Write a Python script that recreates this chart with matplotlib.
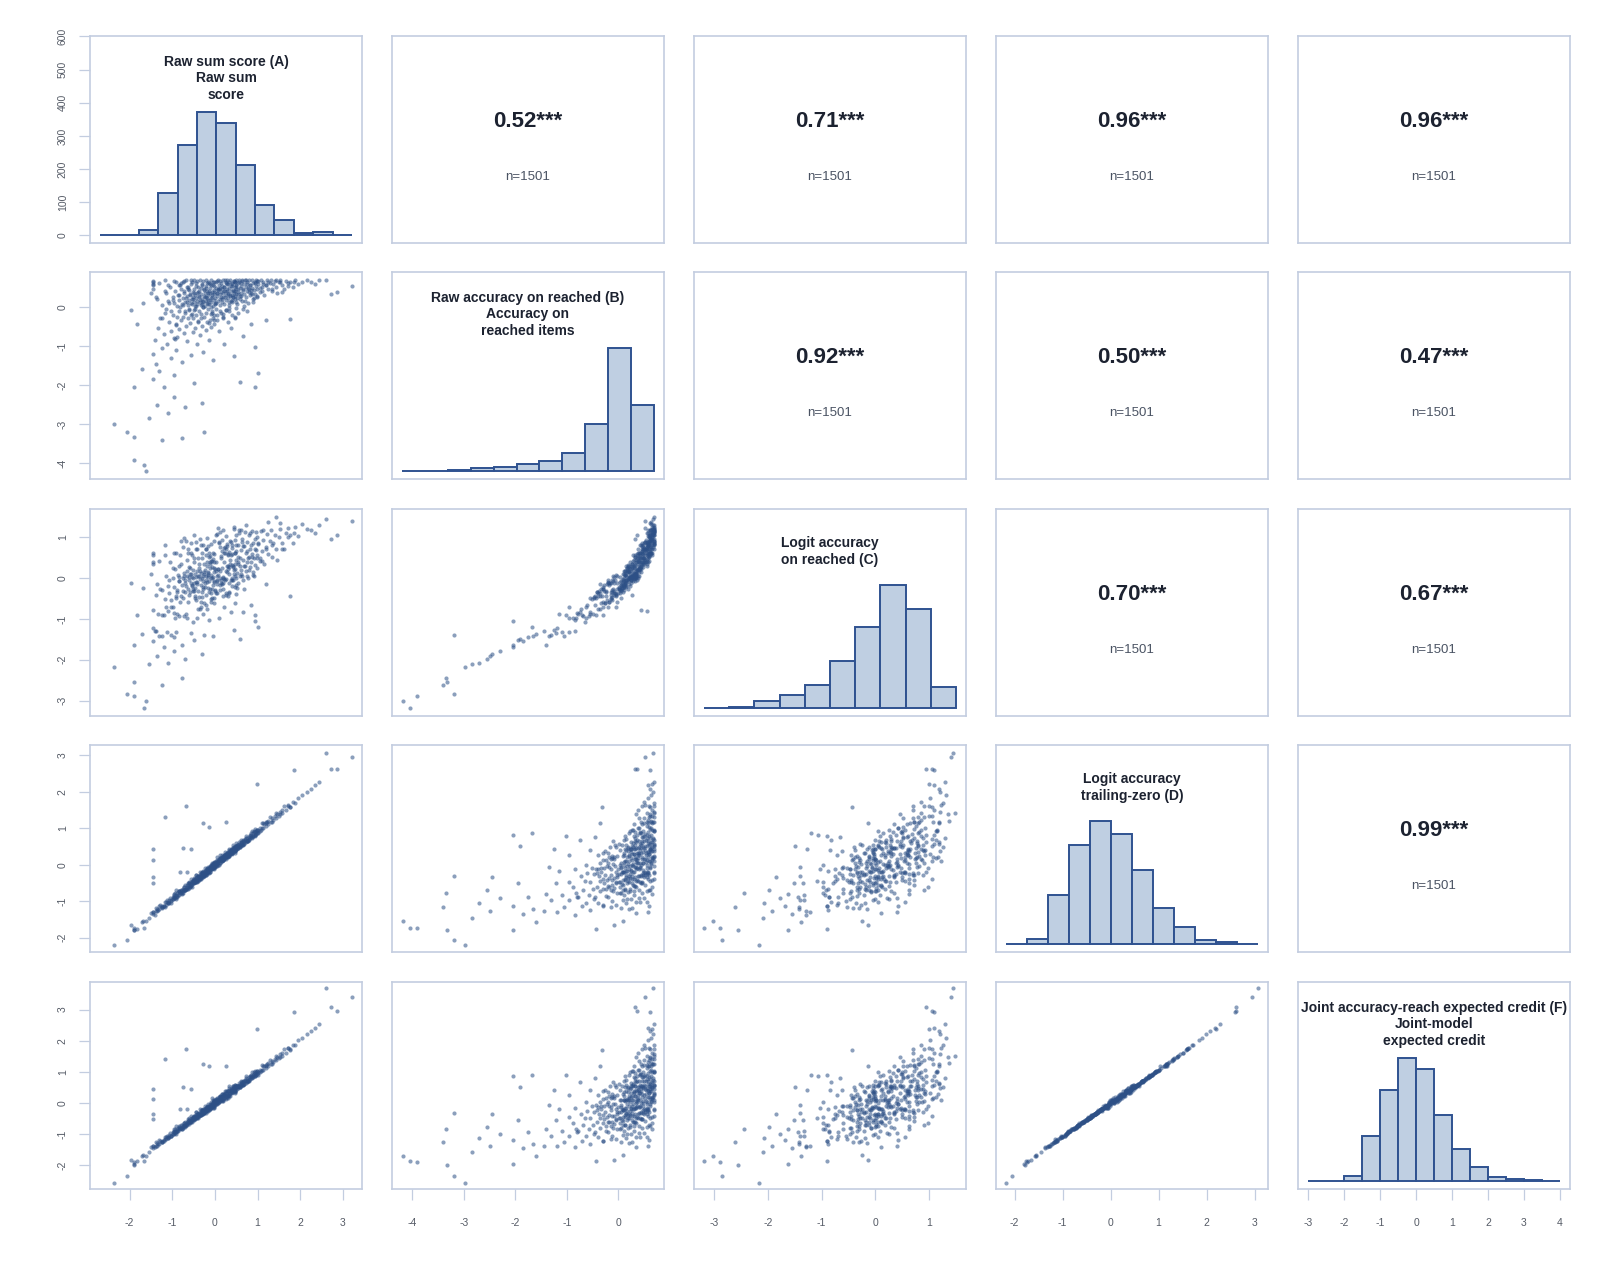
import matplotlib
matplotlib.use("Agg")
import matplotlib.pyplot as plt
import numpy as np

plt.rcParams['font.family'] = ['Liberation Sans', 'DejaVu Sans']

# ---------------- per-respondent scores ----------------
# low-accuracy tail
A_tail = [-2.37, -2.07, -1.89, -1.90, -1.66, -1.61, -1.23, -0.25, -0.78, 1.00,
          0.94, 0.59, -1.90, -1.55, -1.35, -1.10, -0.95, -1.45, -1.20, -0.70,
          -0.50, -1.70, -0.95, -0.30, -1.30]
B_tail = [-2.98, -3.20, -3.33, -3.91, -4.04, -4.19, -3.40, -3.20, -3.34, -1.68,
          -2.05, -1.92, -2.04, -2.85, -2.50, -2.70, -2.30, -1.85, -2.05, -2.55,
          -1.95, -1.60, -1.75, -2.45, -1.65]
C_tail = [-2.17, -2.85, -2.55, -2.90, -3.19, -3.02, -2.61, -1.40, -2.45, -1.20,
          -1.06, -1.50, -1.63, -2.10, -1.92, -2.08, -1.78, -1.55, -1.68, -1.98,
          -1.52, -1.38, -1.45, -1.85, -1.42]
D_tail = [-2.19, -2.05, -1.78, -1.74, -1.72, -1.55, -1.16, -0.30, -0.77, 0.86,
          0.82, 0.50, -1.80, -1.46, -1.28, -1.05, -0.92, -1.36, -1.12, -0.70,
          -0.50, -1.58, -0.88, -0.33, -1.22]
F_tail = [-2.57, -2.35, -1.98, -1.90, -1.88, -1.70, -1.25, -0.33, -0.84, 0.90,
          0.86, 0.52, -1.97, -1.58, -1.38, -1.13, -0.99, -1.46, -1.20, -0.76,
          -0.54, -1.71, -0.95, -0.36, -1.31]

# middling accuracy
A_mid = [-1.97, -1.83, -1.45, -1.40, -1.38, -1.33, -1.28, -1.25, -1.20, -1.16,
         -1.12, -1.08, -1.04, -1.02, -0.98, -0.96, -0.94, -0.92, -0.90, -0.88,
         -0.85, -0.83, -0.80, -0.78, -0.75, -0.72, -0.70, -0.68, -0.65, -0.63,
         -0.60, -0.58, -0.56, -0.54, -0.52, -0.51, -0.48, -0.46, -0.44, -0.42,
         -0.40, -0.38, -0.36, -0.33, -0.31, -0.29, -0.27, -0.25, -0.22, -0.20,
         -0.18, -0.16, -0.14, -0.12, -0.10, -0.08, -0.07, -0.05, -0.04, -0.03,
         -0.01, 0.02, 0.06, 0.10, 0.14, 0.18, 0.22, 0.26, 0.30, 0.33,
         0.37, 0.40, 0.44, 0.46, 0.49, 0.55, 0.65, 0.75, 0.85, 0.95,
         1.20, 1.77]
B_mid = [-0.08, -0.43, -1.20, -0.85, -1.45, -0.55, -0.30, -1.05, -0.70, -0.15,
         -0.95, -0.40, -1.30, -0.62, -0.20, -0.80, -0.82, -0.45, -1.10, -0.78,
         -0.10, -0.58, -0.35, -1.40, -0.25, -0.68, -0.12, -0.50, -0.88, -0.30,
         -0.05, -0.42, -1.22, -0.18, -0.65, -0.28, -0.08, -0.55, -0.22, -0.95,
         -0.38, -0.12, -0.72, -0.30, -0.48, -0.02, -1.15, -0.26, -0.60, -0.15,
         -0.40, -0.05, -0.85, -0.33, -0.18, -0.52, -0.10, -0.28, -1.35, -0.44,
         -0.20, -0.06, -0.35, -0.62, -0.15, -0.25, -0.95, -0.08, -0.40, -0.12,
         -0.55, -0.20, -1.25, -0.30, -0.04, -0.16, -0.75, -0.10, -0.45, -1.02,
         -0.35, -0.31]
C_mid = [-0.13, -0.90, -1.22, -1.30, -1.30, -0.88, -0.27, -1.42, -0.91, -0.52,
         -1.32, -0.37, -1.40, -0.70, -0.70, -0.86, -0.97, -0.44, -1.33, -0.87,
         -0.08, -0.94, -0.45, -1.63, -0.31, -0.92, -0.04, -0.88, -0.97, -0.60,
         -0.42, -0.35, -1.34, -0.18, -1.08, -0.33, -0.31, -0.50, -0.53, -0.97,
         -0.32, -0.46, -0.76, -0.71, -0.47, -0.26, -0.88, -0.62, -0.67, -0.42,
         -0.75, 0.07, -1.04, -0.28, -0.60, -0.52, -0.27, -0.18, -1.41, -0.48,
         -0.10, -0.36, -0.38, -0.97, -0.12, -0.44, -0.72, -0.38, -0.45, -0.34,
         -0.84, -0.05, -1.28, -0.22, -0.40, -0.12, -0.83, 0.06, -0.65, -0.90,
         -0.14, -0.44]
D_mid = [-1.65, -1.76, -1.29, -1.37, -1.26, -1.25, -1.11, -1.16, -1.12, -1.15,
         -0.96, -1.04, -0.96, -1.04, -0.87, -0.89, -0.77, -0.88, -0.84, -0.89,
         -0.73, -0.82, -0.72, -0.81, -0.66, -0.69, -0.56, -0.67, -0.60, -0.66,
         -0.49, -0.60, -0.50, -0.60, -0.45, -0.49, -0.36, -0.46, -0.42, -0.47,
         -0.31, -0.41, -0.32, -0.40, -0.26, -0.29, -0.17, -0.27, -0.22, -0.27,
         -0.11, -0.21, -0.12, -0.21, -0.06, -0.10, 0.01, -0.09, -0.05, -0.11,
         0.05, -0.04, 0.06, -0.01, 0.16, 0.14, 0.28, 0.20, 0.27, 0.23,
         0.40, 0.31, 0.42, 0.33, 0.49, 0.49, 0.67, 0.65, 0.77, 0.79,
         1.15, 1.58]
F_mid = [-1.82, -1.86, -1.40, -1.43, -1.37, -1.32, -1.21, -1.25, -1.21, -1.17,
         -1.05, -1.09, -1.05, -1.07, -0.95, -0.94, -0.85, -0.94, -0.91, -0.89,
         -0.80, -0.85, -0.79, -0.83, -0.73, -0.72, -0.62, -0.72, -0.65, -0.65,
         -0.55, -0.61, -0.56, -0.60, -0.50, -0.51, -0.41, -0.50, -0.46, -0.44,
         -0.36, -0.41, -0.36, -0.39, -0.30, -0.30, -0.21, -0.29, -0.25, -0.23,
         -0.14, -0.20, -0.15, -0.19, -0.09, -0.09, -0.02, -0.10, -0.06, -0.06,
         0.03, -0.02, 0.04, 0.03, 0.15, 0.16, 0.27, 0.21, 0.27, 0.30,
         0.40, 0.35, 0.42, 0.39, 0.50, 0.53, 0.68, 0.68, 0.80, 0.89,
         1.19, 1.70]

# high accuracy, below-average sum score
A_top1 = [-1.69, -1.46, -1.46, -1.46, -1.44, -1.44, -1.35, -1.25, -1.17, -1.15,
          -1.10, -1.05, -0.98, -0.96, -0.93, -0.91, -0.89, -0.87, -0.85, -0.82,
          -0.80, -0.78, -0.75, -0.74, -0.72, -0.70, -0.68, -0.66, -0.65, -0.63,
          -0.61, -0.60, -0.58, -0.57, -0.55, -0.54, -0.53, -0.52, -0.51, -0.49,
          -0.48, -0.47, -0.46, -0.45, -0.44, -0.43, -0.42, -0.41, -0.40, -0.38,
          -0.37, -0.36, -0.35, -0.33, -0.32, -0.31, -0.30, -0.28, -0.27, -0.26,
          -0.25, -0.24, -0.23, -0.22, -0.21, -0.20, -0.19, -0.18, -0.17, -0.16]
B_top1 = [0.09, 0.62, 0.66, 0.55, 0.44, 0.58, 0.20, 0.05, 0.69, 0.35,
          0.14, 0.50, 0.25, 0.10, 0.40, 0.62, 0.03, 0.30, 0.18, 0.55,
          0.45, 0.08, 0.64, 0.22, 0.35, 0.12, 0.69, 0.50, 0.28, 0.04,
          0.42, 0.16, 0.33, 0.58, 0.69, 0.20, 0.07, 0.38, 0.26, 0.12,
          0.45, 0.30, 0.02, 0.22, 0.60, 0.35, 0.15, 0.08, 0.50, 0.26,
          0.40, 0.18, 0.69, 0.05, 0.32, 0.55, 0.20, 0.65, 0.11, 0.44,
          0.28, 0.02, 0.36, 0.15, 0.52, 0.24, 0.09, 0.40, 0.62, 0.30]
C_top1 = [-0.25, 0.60, 0.55, 0.35, -0.78, 0.40, -0.15, -0.30, 0.80, 0.05,
          -0.20, 0.40, 0.00, -0.22, 0.22, 0.62, -0.30, 0.08, -0.08, 0.55,
          0.35, -0.18, 0.75, 0.00, 0.12, -0.12, 0.90, 0.45, 0.05, -0.28,
          0.28, -0.05, 0.10, 0.62, 0.85, 0.02, -0.20, 0.20, 0.00, -0.12,
          0.38, 0.10, -0.25, 0.02, 0.70, 0.18, -0.10, -0.15, 0.50, 0.05,
          0.25, -0.02, 0.95, -0.18, 0.12, 0.62, 0.00, 0.80, -0.08, 0.35,
          0.10, -0.22, 0.20, -0.05, 0.55, 0.05, -0.10, 0.30, 0.78, 0.12]
D_top1 = [-1.55, 0.42, 0.12, -0.33, -0.49, -1.30, -1.20, -1.19, 1.30, -1.02,
          -1.05, -0.92, -0.94, -0.84, -0.90, -0.70, -0.78, -0.84, -0.74, -0.19,
          -0.77, -0.68, 0.47, -0.72, -0.62, -0.68, 1.60, -0.19, -0.56, -0.62,
          -0.48, -0.51, -0.58, -0.40, 0.42, -0.46, -0.53, -0.44, -0.51, -0.41,
          -0.48, -0.39, -0.46, -0.37, -0.28, -0.44, -0.34, -0.42, -0.33, -0.39,
          -0.30, -0.37, -0.20, -0.26, -0.34, -0.24, -0.32, 1.15, -0.21, -0.28,
          -0.19, -0.26, -0.10, -0.16, -0.23, -0.14, -0.21, -0.13, -0.05, -0.19]
F_top1 = [-1.66, 0.45, 0.12, -0.35, -0.52, -1.38, -1.28, -1.27, 1.40, -1.09,
          -1.12, -0.98, -1.00, -0.89, -0.96, -0.74, -0.83, -0.89, -0.79, -0.20,
          -0.82, -0.72, 0.50, -0.77, -0.66, -0.72, 1.72, -0.20, -0.60, -0.66,
          -0.50, -0.54, -0.62, -0.42, 0.45, -0.49, -0.56, -0.47, -0.54, -0.44,
          -0.51, -0.41, -0.49, -0.39, -0.30, -0.47, -0.36, -0.45, -0.35, -0.41,
          -0.32, -0.39, -0.21, -0.28, -0.36, -0.25, -0.34, 1.24, -0.22, -0.30,
          -0.20, -0.28, -0.10, -0.17, -0.24, -0.15, -0.22, -0.14, -0.05, -0.20]

# high accuracy, around-average sum score
A_top2 = [-0.15, -0.14, -0.13, -0.12, -0.11, -0.10, -0.09, -0.08, -0.07, -0.06,
          -0.05, -0.04, -0.03, -0.02, -0.02, -0.01, 0.01, 0.02, 0.03, 0.04,
          0.05, 0.06, 0.07, 0.08, 0.10, 0.11, 0.12, 0.13, 0.14, 0.15,
          0.16, 0.17, 0.18, 0.19, 0.20, 0.21, 0.22, 0.23, 0.24, 0.25,
          0.26, 0.27, 0.28, 0.29, 0.30, 0.31, 0.32, 0.33, 0.34, 0.35,
          0.36, 0.37, 0.38, 0.39, 0.40, 0.41, 0.42, 0.43, 0.44, 0.45,
          0.46, 0.46, 0.47, 0.48, 0.48, 0.49, 0.49, 0.50, 0.50, 0.50]
B_top2 = [0.17, 0.60, 0.06, 0.47, 0.34, 0.21, 0.69, 0.12, 0.38, 0.26,
          0.55, 0.03, 0.42, 0.18, 0.32, 0.64, 0.22, 0.48, 0.10, 0.35,
          0.66, 0.28, 0.15, 0.42, 0.55, 0.05, 0.32, 0.20, 0.60, 0.38,
          0.13, 0.45, 0.26, 0.69, 0.34, 0.08, 0.50, 0.24, 0.40, 0.64,
          0.17, 0.30, 0.57, 0.44, 0.21, 0.36, 0.62, 0.11, 0.48, 0.27,
          0.69, 0.39, 0.15, 0.53, 0.31, 0.58, 0.24, 0.43, 0.66, 0.35,
          0.19, 0.50, 0.62, 0.28, 0.41, 0.69, 0.13, 0.55, 0.33, 0.46]
C_top2 = [0.15, 0.52, -0.07, 0.33, 0.40, 0.00, 0.82, 0.07, 0.00, 0.28,
          0.47, 0.02, 0.24, 0.14, -0.07, 0.90, 0.23, 0.38, 0.17, 0.04,
          1.07, -0.08, 0.08, 0.23, 0.87, -0.17, 0.00, 0.18, 0.53, 0.48,
          -0.15, 0.65, 0.02, 1.17, 0.00, -0.03, 0.73, -0.04, 0.60, 0.72,
          0.17, -0.02, 0.78, 0.30, 0.30, 0.23, 0.64, 0.10, 0.27, 0.33,
          0.90, 0.55, -0.06, 0.74, 0.00, 0.80, 0.30, 0.28, 1.20, 0.10,
          0.23, 0.35, 0.93, 0.06, 0.60, 1.05, -0.16, 0.80, 0.00, 0.66]
D_top2 = [-0.18, 1.03, -0.08, -0.15, -0.06, -0.12, -0.04, -0.10, 0.05, -0.02,
          -0.08, 0.00, -0.07, 0.03, -0.05, 0.04, -0.03, 0.06, -0.01, 0.08,
          0.20, 0.02, 0.11, 0.04, 0.13, 0.06, 0.15, 0.26, 0.09, 0.18,
          0.11, 0.20, 0.13, 0.22, 0.15, 0.24, 0.17, 0.36, 0.26, 1.18,
          0.20, 0.29, 0.22, 0.31, 0.24, 0.33, 0.44, 0.27, 0.36, 0.29,
          0.38, 0.31, 0.40, 0.33, 0.42, 0.35, 0.44, 0.55, 0.37, 0.46,
          0.39, 0.47, 0.40, 0.49, 0.41, 0.50, 0.42, 0.51, 0.43, 0.60]
F_top2 = [-0.26, 1.19, -0.13, -0.10, -0.17, -0.10, 0.03, -0.16, 0.16, -0.10,
          -0.16, 0.09, -0.12, 0.09, -0.15, 0.07, 0.04, 0.01, 0.09, 0.00,
          0.15, 0.11, 0.08, 0.10, 0.04, 0.09, 0.23, 0.23, 0.20, 0.11,
          0.05, 0.30, 0.10, 0.29, 0.06, 0.28, 0.25, 0.33, 0.37, 1.18,
          0.14, 0.39, 0.19, 0.39, 0.15, 0.38, 0.54, 0.23, 0.48, 0.23,
          0.33, 0.42, 0.38, 0.41, 0.34, 0.40, 0.53, 0.53, 0.49, 0.40,
          0.34, 0.58, 0.38, 0.57, 0.33, 0.56, 0.51, 0.49, 0.55, 0.56]

# high accuracy, above-average sum score
A_top3 = [0.52, 0.54, 0.55, 0.57, 0.58, 0.60, 0.61, 0.63, 0.64, 0.66,
          0.67, 0.69, 0.70, 0.72, 0.73, 0.75, 0.76, 0.78, 0.79, 0.80,
          0.82, 0.83, 0.85, 0.86, 0.88, 0.89, 0.90, 0.92, 0.93, 0.94,
          0.96, 0.97, 0.98, 0.99, 0.99, 1.02, 1.05, 1.08, 1.10, 1.13,
          1.16, 1.19, 1.22, 1.25, 1.28, 1.31, 1.34, 1.37, 1.40, 1.43,
          1.46, 1.49, 1.53, 1.58, 1.62, 1.67, 1.72, 1.77, 1.82, 1.88,
          1.95, 2.16, 2.35, 2.60, 2.73, 2.86, 3.21, 1.85, 2.45, 2.25, -1.10]
B_top3 = [0.22, 0.60, 0.38, 0.69, 0.47, 0.28, 0.54, 0.15, 0.65, 0.42,
          0.33, 0.58, 0.69, 0.25, 0.50, 0.40, 0.62, 0.10, 0.46, 0.67,
          0.30, 0.55, 0.36, 0.69, 0.48, 0.20, 0.60, 0.42, 0.64, 0.32,
          0.52, 0.69, 0.66, 0.44, 0.26, 0.58, 0.38, 0.69, 0.50, 0.63,
          0.30, 0.55, 0.67, 0.45, 0.60, 0.69, 0.40, 0.57, 0.65, 0.50,
          0.35, 0.62, 0.69, 0.55, 0.45, 0.66, 0.60, 0.62, 0.50, 0.69,
          0.58, 0.67, 0.58, 0.67, 0.33, 0.37, 0.52, 0.62, 0.69, 0.62, 0.55]
C_top3 = [0.12, 0.80, 0.35, 1.10, 0.50, 0.20, 0.68, 0.05, 0.95, 0.45,
          0.30, 0.78, 1.12, 0.18, 0.60, 0.40, 0.88, 0.00, 0.52, 1.05,
          0.28, 0.72, 0.38, 1.15, 0.58, 0.15, 0.85, 0.48, 0.95, 0.32,
          0.68, 1.12, 1.00, 0.50, 0.25, 0.82, 0.42, 1.15, 0.65, 0.92,
          0.35, 0.75, 1.08, 0.58, 0.90, 1.18, 0.52, 0.85, 1.05, 0.70,
          0.45, 1.00, 1.20, 0.85, 0.70, 1.10, 1.00, 1.05, 0.85, 1.25,
          1.02, 1.20, 1.10, 1.45, 0.95, 1.05, 1.40, 1.10, 1.30, 1.18, -0.82]
D_top3 = [0.44, 0.53, 0.47, 0.56, 0.49, 0.59, 0.68, 0.54, 0.63, 0.56,
          0.65, 0.59, 0.68, 0.62, 0.80, 0.65, 0.74, 0.68, 0.77, 0.70,
          0.79, 0.72, 0.82, 0.92, 0.77, 0.86, 0.79, 0.89, 0.82, 0.90,
          0.84, 0.93, 2.20, 0.87, 0.95, 0.90, 1.01, 0.95, 1.15, 1.00,
          1.11, 1.05, 1.16, 1.11, 1.30, 1.17, 1.27, 1.22, 1.33, 1.28,
          1.38, 1.33, 1.45, 1.41, 1.60, 1.50, 1.62, 1.59, 1.71, 1.69,
          1.84, 1.99, 2.18, 3.07, 2.62, 2.62, 2.95, 2.60, 2.28, 2.08, -1.02]
F_top3 = [0.46, 0.56, 0.50, 0.59, 0.52, 0.62, 0.72, 0.57, 0.66, 0.59,
          0.69, 0.62, 0.72, 0.65, 0.85, 0.69, 0.78, 0.72, 0.82, 0.74,
          0.84, 0.76, 0.87, 0.98, 0.82, 0.91, 0.84, 0.94, 0.87, 0.96,
          0.89, 0.99, 2.38, 0.93, 1.01, 0.96, 1.07, 1.01, 1.22, 1.07,
          1.18, 1.12, 1.24, 1.19, 1.39, 1.25, 1.36, 1.31, 1.42, 1.37,
          1.48, 1.43, 1.56, 1.52, 1.73, 1.62, 1.76, 1.73, 1.86, 1.85,
          2.02, 2.20, 2.42, 3.68, 3.09, 2.95, 3.40, 2.92, 2.55, 2.32, -1.09]

# dense core of the cloud
A_core = [-0.83, -0.12, 0.41, -0.57, 0.77, -0.31, 0.12, -1.18, 0.58, -0.02,
          0.95, -0.66, 0.26, -0.44, 1.33, 0.05, -0.91, 0.63, -0.18, 0.34,
          -1.37, 0.87, -0.05, 0.19, -0.75, 1.12, -0.39, 0.48, -0.22, 0.71,
          -1.02, 0.22, -0.49, 1.58, 0.01, -0.62, 0.39, -0.14, 0.92, -0.85,
          0.30, -0.28, 0.56, -1.25, 0.08, 1.71, -0.52, 0.44, -0.07, 0.66,
          -0.96, 0.17, -0.35, 1.05, -0.19, 0.52, -0.70, 0.28, -0.03, 0.83,
          -0.47, 0.14, -1.08, 0.37, -0.25, 1.24, -0.58, 0.04, 0.61, -0.11,
          -0.79, 0.47, -0.40, 0.98, 0.10, -1.50, 0.32, -0.30, 0.73, -0.68,
          0.21, -0.08, 1.44, -0.53, 0.58, -0.01, -0.88, 0.40, -0.16, 0.85,
          -0.42, 0.25, -1.15, 0.54, -0.24, 0.07, 0.69, -0.61, 1.19, -0.33,
          0.16, -0.72, 0.45, -0.06, 0.79, -0.37, 0.31, -0.97, 0.60, 0.00,
          -0.50, 1.02, 0.13, -0.21, 0.36, -0.81, 0.50, -0.13, 0.90, -0.45,
          0.23, -0.64, 0.42, 1.52, -0.27, 0.65, -0.09, 0.18, -1.30, 0.75,
          -0.56, 0.29, 0.03, -0.33, 1.10, -0.72, 0.53, -0.17, 0.12, 2.05]
B_core = [0.31, 0.57, 0.18, -0.21, 0.49, 0.08, 0.66, 0.41, 0.27, -0.33,
          0.61, 0.13, -0.09, 0.52, 0.44, 0.36, -0.47, 0.69, 0.22, 0.04,
          0.26, 0.33, 0.63, -0.18, 0.05, 0.58, 0.38, -0.26, 0.47, 0.14,
          -0.12, 0.51, 0.69, 0.38, 0.10, 0.45, 0.60, -0.41, 0.23, 0.55,
          0.33, -0.02, 0.64, -0.30, 0.44, 0.52, 0.19, 0.40, 0.29, -0.07,
          0.66, 0.54, 0.12, 0.47, 0.61, 0.07, -0.15, 0.69, 0.37, 0.56,
          -0.05, 0.25, 0.09, 0.52, 0.43, 0.64, 0.30, -0.22, 0.35, 0.16,
          0.60, 0.63, -0.36, 0.28, 0.46, 0.34, -0.03, 0.58, 0.67, 0.22,
          0.39, 0.00, 0.69, 0.62, 0.19, 0.53, -0.25, 0.11, 0.34, 0.42,
          0.65, 0.60, -0.05, 0.44, 0.24, 0.69, 0.02, -0.08, 0.55, 0.48,
          0.20, 0.40, 0.66, -0.15, 0.37, 0.27, 0.57, 0.17, 0.61, 0.06,
          0.36, 0.65, -0.12, 0.69, 0.30, -0.02, 0.52, 0.41, 0.12, 0.03,
          0.67, 0.51, 0.24, 0.62, 0.15, 0.45, 0.55, -0.30, 0.60, 0.58,
          0.09, 0.40, 0.62, -0.18, 0.40, 0.66, 0.32, 0.07, 0.48, 0.64]
C_core = [0.02, 0.54, 0.31, -0.12, 0.48, -0.35, 1.12, 0.55, 0.05, -0.62,
          0.72, 0.18, -0.41, 0.88, 0.81, -0.05, -0.48, 0.88, 0.38, -0.38,
          -0.42, 0.52, 0.62, -0.12, -0.48, 1.18, 0.05, -0.62, 0.71, 0.29,
          -0.55, 0.40, 1.05, 0.70, -0.30, 0.62, 0.58, -0.34, 0.05, 0.30,
          0.55, 0.05, 1.18, -0.90, 0.22, 1.22, -0.28, 0.20, 0.42, -0.05,
          0.62, 0.92, 0.16, 0.50, 0.98, -0.25, -0.35, 0.82, 0.58, 1.10,
          -0.45, -0.05, -0.05, 0.88, 0.15, 1.38, 0.25, -0.15, 0.10, 0.25,
          0.90, 0.62, -0.75, 0.55, 0.85, 0.10, -0.12, 0.50, 1.30, -0.20,
          0.60, -0.38, 1.48, 0.55, 0.30, 0.40, -0.35, -0.20, 0.02, 0.80,
          0.72, 1.02, -0.72, 0.38, -0.12, 1.22, -0.28, 0.02, 0.72, 0.80,
          0.25, 0.05, 1.25, -0.48, 0.20, 0.35, 0.58, 0.25, 1.18, -0.32,
          0.50, 0.85, -0.30, 0.70, 0.45, -0.60, 0.45, 0.62, 0.08, -0.10,
          0.75, 0.72, -0.05, 1.35, -0.22, 0.78, 0.42, -0.28, 0.42, 0.65,
          0.10, 0.15, 1.05, -0.60, 0.42, 0.98, 0.52, -0.25, 0.75, 1.32]
D_core = [-0.71, -0.19, 0.46, -0.58, 0.66, -0.21, 0.19, -1.02, 0.50, -0.09,
          0.98, -0.67, 0.16, -0.28, 1.17, 0.12, -0.93, 0.55, -0.26, 0.41,
          -1.19, 0.74, 0.03, 0.22, -0.77, 1.13, -0.32, 0.39, -0.29, 0.71,
          -0.99, 0.15, -0.40, 1.50, 0.08, -0.50, 0.30, -0.22, 0.92, -0.72,
          0.20, -0.33, 0.61, -1.14, 0.00, 1.64, -0.45, 0.48, -0.03, 0.55,
          -0.80, 0.27, -0.38, 0.92, -0.10, 0.53, -0.70, 0.23, 0.04, 0.81,
          -0.48, 0.18, -0.96, 0.41, -0.30, 1.20, -0.58, -0.03, 0.63, -0.04,
          -0.68, 0.37, -0.44, 0.96, 0.17, -1.32, 0.24, -0.22, 0.74, -0.67,
          0.26, -0.12, 1.41, -0.45, 0.49, 0.07, -0.86, 0.33, -0.11, 0.86,
          -0.43, 0.30, -1.10, 0.45, -0.18, 0.10, 0.58, -0.63, 1.16, -0.23,
          0.09, -0.70, 0.48, -0.11, 0.68, -0.30, 0.36, -0.93, 0.57, -0.06,
          -0.42, 0.94, 0.18, -0.23, 0.29, -0.78, 0.51, -0.08, 0.80, -0.47,
          0.19, -0.55, 0.44, 1.38, -0.29, 0.66, -0.02, 0.13, -1.13, 0.65,
          -0.55, 0.31, 0.11, -0.36, 1.00, -0.60, 0.53, -0.20, 0.05, 1.91]
F_core = [-0.75, -0.20, 0.49, -0.61, 0.70, -0.22, 0.20, -1.08, 0.53, -0.10,
          1.04, -0.71, 0.17, -0.30, 1.24, 0.13, -0.99, 0.58, -0.27, 0.43,
          -1.27, 0.79, 0.03, 0.23, -0.82, 1.20, -0.34, 0.41, -0.31, 0.75,
          -1.05, 0.16, -0.42, 1.60, 0.08, -0.53, 0.32, -0.23, 0.98, -0.76,
          0.21, -0.35, 0.65, -1.21, 0.00, 1.76, -0.48, 0.51, -0.03, 0.58,
          -0.85, 0.29, -0.40, 0.98, -0.11, 0.56, -0.74, 0.24, 0.04, 0.86,
          -0.51, 0.19, -1.02, 0.44, -0.32, 1.28, -0.62, -0.03, 0.67, -0.04,
          -0.72, 0.39, -0.47, 1.02, 0.18, -1.41, 0.25, -0.23, 0.79, -0.71,
          0.27, -0.13, 1.51, -0.48, 0.52, 0.07, -0.91, 0.35, -0.12, 0.91,
          -0.46, 0.32, -1.17, 0.48, -0.19, 0.11, 0.61, -0.67, 1.23, -0.24,
          0.10, -0.74, 0.51, -0.12, 0.72, -0.32, 0.38, -0.99, 0.60, -0.06,
          -0.45, 1.00, 0.19, -0.24, 0.31, -0.83, 0.54, -0.09, 0.85, -0.50,
          0.20, -0.58, 0.47, 1.47, -0.31, 0.70, -0.02, 0.14, -1.20, 0.69,
          -0.58, 0.33, 0.12, -0.38, 1.06, -0.64, 0.56, -0.21, 0.05, 2.10]

A = A_tail + A_mid + A_top1 + A_top2 + A_top3 + A_core
B = B_tail + B_mid + B_top1 + B_top2 + B_top3 + B_core
C = C_tail + C_mid + C_top1 + C_top2 + C_top3 + C_core
D = D_tail + D_mid + D_top1 + D_top2 + D_top3 + D_core
F = F_tail + F_mid + F_top1 + F_top2 + F_top3 + F_core
variables = [A, B, C, D, F]
assert len(set(len(v) for v in variables)) == 1, [len(v) for v in variables]

# observed range of each score (sets the panel scales)
data_ranges = [(-2.69, 3.21), (-4.20, 0.69), (-3.19, 1.50), (-2.18, 3.07), (-2.52, 3.64)]

# ---------------- diagonal histograms (counts per 0.5-wide bin) ----------------
hist_start = [-3.0, -4.5, -3.5, -2.5, -3.0]
bin_width = 0.5
counts_A = [1, 2, 17, 127, 272, 373, 339, 212, 93, 45, 8, 11, 1]
counts_B = [3, 1, 5, 20, 25, 37, 53, 98, 249, 657, 353]
counts_C = [2, 6, 26, 47, 83, 170, 293, 444, 355, 75]
counts_D = [2, 16, 140, 285, 354, 315, 214, 103, 51, 13, 7, 1]
counts_F = [1, 1, 17, 137, 274, 370, 335, 199, 97, 43, 14, 8, 3, 2]
hist_counts = [counts_A, counts_B, counts_C, counts_D, counts_F]

diag_titles = [
    "Raw sum score (A)\nRaw sum\nscore",
    "Raw accuracy on reached (B)\nAccuracy on\nreached items",
    "Logit accuracy\non reached (C)",
    "Logit accuracy\ntrailing-zero (D)",
    "Joint accuracy-reach expected credit (F)\nJoint-model\nexpected credit",
]

# upper-triangle correlation labels
corr_labels = {
    (0, 1): "0.52***", (0, 2): "0.71***", (0, 3): "0.96***", (0, 4): "0.96***",
    (1, 2): "0.92***", (1, 3): "0.50***", (1, 4): "0.47***",
    (2, 3): "0.70***", (2, 4): "0.67***",
    (3, 4): "0.99***",
}
n_label = "n=1501"

x_ticks = [[-2, -1, 0, 1, 2, 3], [-4, -3, -2, -1, 0], [-3, -2, -1, 0, 1],
           [-2, -1, 0, 1, 2, 3], [-3, -2, -1, 0, 1, 2, 3, 4]]
y_ticks = [[0, 100, 200, 300, 400, 500, 600], [-4, -3, -2, -1, 0], [-3, -2, -1, 0, 1],
           [-2, -1, 0, 1, 2, 3], [-2, -1, 0, 1, 2, 3]]

# ---------------- styling ----------------
frame_col = "#c3cde0"
dot_col = "#2d5086"
bar_fill = "#bfcfe2"
bar_edge = "#2f5290"
text_dark = "#1c2230"
text_grey = "#4a5363"
tick_lab_col = "#555b66"

W_PX, H_PX = 1600, 1280
col_left = [90, 392, 694, 996, 1298]
row_top = [36, 272, 509, 745, 982]
pw, ph = 272, 207


def padded(lo, hi, frac=0.04):
    r = hi - lo
    return lo - frac * r, hi + frac * r


fig = plt.figure(figsize=(16, 12.8), dpi=100)
fig.patch.set_facecolor("white")

for i in range(5):
    for j in range(5):
        ax = fig.add_axes([col_left[j] / W_PX, 1 - (row_top[i] + ph) / H_PX,
                           pw / W_PX, ph / H_PX])
        for s in ax.spines.values():
            s.set_color(frame_col)
            s.set_linewidth(1.2)
        ax.set_xticks([])
        ax.set_yticks([])

        if i == j:
            counts = hist_counts[i]
            nb = len(counts)
            left_edges = [hist_start[i] + k * bin_width for k in range(nb)]
            ax.bar(left_edges, counts, width=bin_width, align="edge",
                   color=bar_fill, edgecolor=bar_edge, linewidth=1.4, zorder=2)
            lo = hist_start[i]
            hi = hist_start[i] + nb * bin_width
            ax.set_xlim(*padded(lo, hi))
            m = max(counts)
            ax.set_ylim(-0.062 * m, 1.612 * m)
            ax.text(0.5, 0.795, diag_titles[i], transform=ax.transAxes,
                    ha="center", va="center", fontsize=10, fontweight="bold",
                    color=text_dark, linespacing=1.2, zorder=3)
        elif i > j:
            ax.scatter(variables[j], variables[i], s=9, color=dot_col,
                       alpha=0.55, linewidths=0, zorder=2)
            ax.set_xlim(*padded(*data_ranges[j]))
            ax.set_ylim(*padded(*data_ranges[i]))
        else:
            ax.set_xlim(0, 1)
            ax.set_ylim(0, 1)
            ax.text(0.5, 0.585, corr_labels[(i, j)], ha="center", va="center",
                    fontsize=16, fontweight="bold", color=text_dark)
            ax.text(0.5, 0.32, n_label, ha="center", va="center",
                    fontsize=9.5, color=text_grey)

        if i == 4:
            ax.set_xticks(x_ticks[j])
            ax.set_xticklabels([str(t) for t in x_ticks[j]])
            ax.tick_params(axis="x", length=8, width=0.9, color=frame_col,
                           pad=13, labelsize=7.5, labelcolor=tick_lab_col)
        if j == 0:
            ax.set_yticks(y_ticks[i])
            ax.set_yticklabels([str(t) for t in y_ticks[i]])
            ax.tick_params(axis="y", length=8, width=0.9, color=frame_col,
                           pad=8, labelsize=7.5, labelcolor=tick_lab_col,
                           labelrotation=90)
            for lab in ax.get_yticklabels():
                lab.set_verticalalignment("center")

fig.savefig("out.png", dpi=100, facecolor="white")
